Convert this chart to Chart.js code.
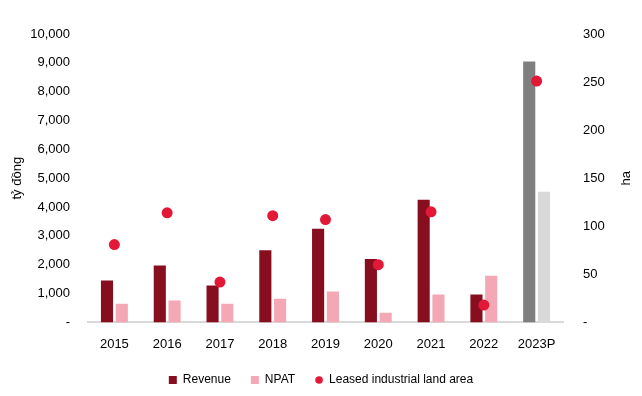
<!DOCTYPE html>
<html><head><meta charset="utf-8">
<script src="https://cdn.jsdelivr.net/npm/chart.js@4/dist/chart.umd.min.js"></script>
<style>html,body{margin:0;padding:0;background:#fff;}canvas{display:block;}</style>
</head><body>
<canvas id="c" width="642" height="396"></canvas>
<script>
const categories = ['2015','2016','2017','2018','2019','2020','2021','2022','2023P'];
const revenue = [1450, 1970, 1280, 2500, 3250, 2200, 4250, 970, 9050];
const npat = [650, 760, 650, 820, 1070, 335, 970, 1615, 4530];
const landArea = [81, 114, 42, 111, 107, 60, 115, 18, 251];
const leftTicks = [0,1000,2000,3000,4000,5000,6000,7000,8000,9000,10000];
const rightTicks = [0,50,100,150,200,250,300];
const rightTitle = 'ha';

const FONT = "'Liberation Sans',Arial,sans-serif";
const revColors = categories.map((c,i)=> i===categories.length-1 ? '#7F7F7F' : '#870E1F');
const npatColors = categories.map((c,i)=> i===categories.length-1 ? '#D9D9D9' : '#F4A7B4');
const legendColors = ['#870E1F','#F4A7B4','#E31837'];

// small dot image for the legend marker
const dot = document.createElement('canvas');
dot.width = 8; dot.height = 8;
(function(){const g=dot.getContext('2d'); g.fillStyle='#E31837'; g.beginPath(); g.arc(4,4,3.8,0,Math.PI*2); g.fill();})();

// right-axis title drawn reading bottom-to-top, as in the reference
const rightTitlePlugin = {
  id:'rightTitle',
  afterDraw(chart){
    const s = chart.scales.y1, ctx = chart.ctx;
    ctx.save();
    ctx.font = '13px ' + FONT;
    ctx.fillStyle = '#000';
    ctx.textAlign = 'center'; ctx.textBaseline = 'middle';
    ctx.translate(s.right - 16, (chart.chartArea.top + chart.chartArea.bottom)/2);
    ctx.rotate(-Math.PI/2);
    ctx.fillText(rightTitle, 0, 0);
    ctx.restore();
  }
};

Chart.defaults.font.family = FONT;
Chart.defaults.font.size = 13;
Chart.defaults.color = '#000';

new Chart(document.getElementById('c'), {
  data: {
    labels: categories,
    datasets: [
      {type:'bar', label:'Revenue', data: revenue, backgroundColor: revColors, yAxisID:'y', pointStyle:'rect', order:2,
       categoryPercentage:0.56, barPercentage:0.82},
      {type:'bar', label:'NPAT', data: npat, backgroundColor: npatColors, yAxisID:'y', pointStyle:'rect', order:2,
       categoryPercentage:0.56, barPercentage:0.82},
      {type:'line', label:'Leased industrial land area', data: landArea, yAxisID:'y1', showLine:false,
       pointStyle:'circle', pointRadius:5.5, pointHoverRadius:5.5, backgroundColor:'#E31837', borderColor:'#E31837', borderWidth:0, order:1}
    ]
  },
  plugins:[rightTitlePlugin],
  options: {
    responsive:false, animation:false,
    layout:{padding:{top:34, bottom:0, left:0, right:0}},
    plugins:{
      tooltip:{enabled:false},
      legend:{position:'bottom',
        labels:{usePointStyle:true, boxWidth:8, boxHeight:8, padding:10, font:{size:12, family:FONT},
          sort:(a,b)=>a.datasetIndex-b.datasetIndex,
          generateLabels:(chart)=>{
            const items = Chart.defaults.plugins.legend.labels.generateLabels(chart);
            items.forEach((it)=>{const c=legendColors[it.datasetIndex]; it.fillStyle=c; it.strokeStyle=c; it.lineWidth=0;
              if(it.datasetIndex<2) it.text = it.text + '   ';
              if(it.datasetIndex===2) it.pointStyle = dot;});
            return items;
          }}}
    },
    scales:{
      x:{grid:{display:false, drawTicks:false}, border:{display:true, color:'#D9D9D9', width:2},
         ticks:{padding:14, font:{size:13}},
         afterFit:(s)=>{s.height -= 2;}},
      y:{position:'left', min:0, max:10000,
         afterBuildTicks:(s)=>{s.ticks = leftTicks.map(v=>({value:v}));},
         afterFit:(s)=>{s.width=88;},
         grid:{display:false, drawTicks:false}, border:{display:false},
         ticks:{padding:18, callback:(v)=> v===0 ? '-' : v.toLocaleString('en-US')},
         title:{display:true, text:'tỷ đồng', font:{size:13}, padding:{top:10,bottom:0}}},
      y1:{position:'right', min:0, max:300,
         afterBuildTicks:(s)=>{s.ticks = rightTicks.map(v=>({value:v}));},
         afterFit:(s)=>{s.width=79;},
         grid:{display:false, drawTicks:false}, border:{display:false},
         ticks:{padding:20, callback:(v)=> v===0 ? '-' : v.toLocaleString('en-US')},
         title:{display:false}}
    }
  }
});
</script>
</body></html>
